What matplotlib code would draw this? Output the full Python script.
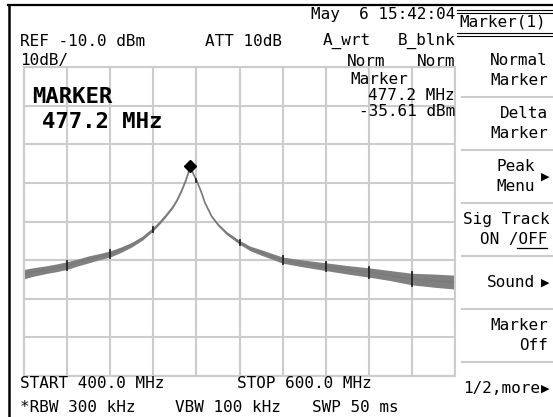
import numpy as np
import matplotlib
matplotlib.use("Agg")
import matplotlib.pyplot as plt
from matplotlib.lines import Line2D

W, H = 553, 417

# sweep trace (MHz, dBm) and the half-height of the noise band (dB)
freq = np.array([400, 405, 410, 415, 420, 425, 430, 435, 440, 445, 450, 455, 460, 463,
                 466, 469, 471, 473, 475, 476, 477.2, 478.5, 480, 482, 484, 487, 490,
                 494, 500, 505, 510, 520, 530, 540, 550, 560, 570, 580, 590, 600])
level = np.array([-63.6, -63.0, -62.5, -62.0, -61.4, -60.6, -59.8, -59.1, -58.4, -57.3,
                  -56.0, -54.3, -52.0, -50.3, -48.4, -46.3, -44.5, -42.2, -39.5, -37.8,
                  -35.61, -37.6, -39.3, -42.0, -45.2, -48.6, -50.8, -53.0, -55.4, -57.0,
                  -58.0, -60.0, -60.9, -61.7, -62.5, -63.2, -64.0, -64.9, -65.3, -65.7])
spread = np.array([1.2, 1.1, 1.0, 1.0, 1.0, 0.9, 0.9, 0.8, 0.8, 0.7, 0.6, 0.5, 0.4, 0.35,
                   0.3, 0.25, 0.2, 0.2, 0.15, 0.15, 0.15, 0.15, 0.15, 0.2, 0.2, 0.25, 0.3,
                   0.4, 0.5, 0.6, 0.7, 0.8, 0.9, 1.0, 1.1, 1.2, 1.3, 1.5, 1.7, 1.8])

start_mhz, stop_mhz = 400.0, 600.0
ref_dbm, db_per_div = -10.0, 10
marker_freq, marker_dbm = 477.2, -35.61

softkeys = [("Normal", "Marker"), ("Delta", "Marker"), ("Peak", "Menu"),
            ("Sig Track", "ON /OFF"), ("Sound", ""), ("Marker", "Off"), ("1/2,more", "")]

plt.rcParams["font.family"] = ["DejaVu Sans Mono", "DejaVu Sans"]
FS = 11.5

fig = plt.figure(figsize=(W / 100, H / 100), dpi=100)
fig.patch.set_facecolor("white")


def put(x, y, s, ha="left", **kw):
    kw.setdefault("fontsize", FS)
    fig.text(x / W, 1 - y / H, s, ha=ha, va="center", color="black", **kw)


def hline(x0, x1, y, color="black", lw=1.0):
    fig.add_artist(Line2D([x0 / W, x1 / W], [1 - y / H, 1 - y / H], color=color, lw=lw))


def vline(x, y0, y1, color="black", lw=1.0):
    fig.add_artist(Line2D([x / W, x / W], [1 - y0 / H, 1 - y1 / H], color=color, lw=lw))


# trace display
ax = fig.add_axes([24 / W, (H - 376) / H, 431 / W, 309 / H])
ax.set_xlim(start_mhz, stop_mhz)
ax.set_ylim(ref_dbm - 8 * db_per_div, ref_dbm)
ax.set_xticks(np.arange(start_mhz, stop_mhz + 1, 20))
ax.set_yticks(np.arange(ref_dbm - 80, ref_dbm + 1, db_per_div))
ax.tick_params(length=0, labelbottom=False, labelleft=False)
ax.grid(True, color="#cccccc", lw=1.5)
for sp in ax.spines.values():
    sp.set_color("#cccccc")
    sp.set_linewidth(1.5)
ax.set_axisbelow(True)

ax.fill_between(freq, level - spread, level + spread, color="#808080", lw=0)
ax.plot(freq, level, color="#7a7a7a", lw=1.2)
# dark spots where the trace crosses the vertical graticule
for f in np.arange(420, 600, 20):
    lv = np.interp(f, freq, level)
    sd = np.interp(f, freq, spread)
    ax.plot([f, f], [lv - sd - 0.2, lv + sd + 0.2], color="#222222", lw=1.3)
ax.plot(marker_freq, marker_dbm, "D", color="black", ms=6)

# screen frame
hline(8, W, 5, lw=1.6)
vline(9, 5, H, lw=1.8)

# header
put(455, 15, "May  6 15:42:04", ha="right")
put(20, 41, f"REF {ref_dbm:.1f} dBm")
put(282, 41, "ATT 10dB", ha="right")
put(323, 41, "A_wrt")
put(455, 41, "B_blnk", ha="right")
put(20, 60, f"{db_per_div}dB/")
put(385, 61, "Norm", ha="right")
put(455, 61, "Norm", ha="right")

# marker readout
put(350, 79, "Marker")
put(455, 95, f"{marker_freq:.1f} MHz", ha="right")
put(455, 111, f"{marker_dbm:.2f} dBm", ha="right")
put(32, 97, "MARKER", fontsize=16, fontweight="bold")
put(42, 122, f"{marker_freq:.1f} MHz", fontsize=16, fontweight="bold")

# footer
put(20, 384, f"START {start_mhz:.1f} MHz")
put(237, 384, f"STOP {stop_mhz:.1f} MHz")
put(20, 407, "*RBW 300 kHz")
put(175, 407, "VBW 100 kHz")
put(312, 407, "SWP 50 ms")

# softkey menu
hline(457, W, 10, lw=0.8)
hline(457, W, 12.5, lw=0.8)
put(459, 22, "Marker(1)")
hline(457, W, 33, lw=0.8)
hline(457, W, 35.5, lw=0.8)

key_top = 44
key_h = 53
for i, (l1, l2) in enumerate(softkeys):
    yc = key_top + i * key_h + key_h / 2
    if i < len(softkeys) - 1:
        hline(462, W, key_top + (i + 1) * key_h, color="#cccccc", lw=1.5)
    has_arrow = l1 in ("Peak", "Sound", "1/2,more")
    right = 535 if has_arrow else 548
    if l1 == "Sig Track":
        put(463, yc - 10, l1)
        put(547, yc + 10, l2, ha="right")
        hline(517, 547, yc + 18, lw=0.9)
    elif l1 == "1/2,more":
        put(463, yc, l1)
    elif l2:
        put(right, yc - 10, l1, ha="right")
        put(right, yc + 10, l2, ha="right")
    else:
        put(right, yc, l1, ha="right")
    if has_arrow:
        put(541, yc, "\u25b6", fontsize=8, family="DejaVu Sans")

fig.savefig("out.png", dpi=100)
